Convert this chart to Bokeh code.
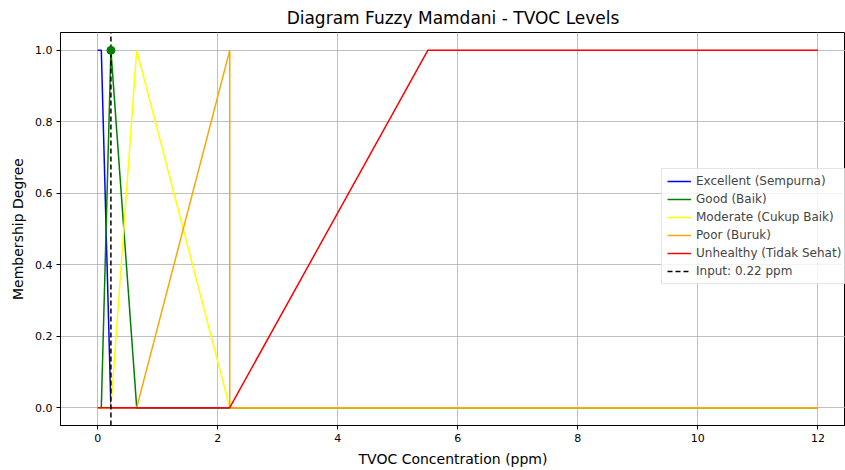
from bokeh.plotting import figure
from bokeh.models import Range1d, Legend, LegendItem, FixedTicker, CustomJSTickFormatter
from bokeh.embed import file_html
from bokeh.resources import INLINE

# membership function breakpoints (TVOC ppm) and degrees
excellent_x = [0, 0.06, 0.22, 12]
excellent_y = [1, 1, 0, 0]
good_x = [0, 0.06, 0.22, 0.65, 12]
good_y = [0, 0, 1, 0, 0]
moderate_x = [0, 0.22, 0.65, 2.2, 12]
moderate_y = [0, 0, 1, 0, 0]
poor_x = [0, 0.65, 2.2, 2.2, 12]
poor_y = [0, 0, 1, 0, 0]
unhealthy_x = [0, 2.2, 5.5, 12]
unhealthy_y = [0, 0, 1, 1]
input_value = 0.22
input_degree = 1.0

labels = ["Excellent (Sempurna)", "Good (Baik)", "Moderate (Cukup Baik)",
          "Poor (Buruk)", "Unhealthy (Tidak Sehat)", "Input: 0.22 ppm"]
x_ticks = [0, 2, 4, 6, 8, 10, 12]
y_ticks = [0.0, 0.2, 0.4, 0.6, 0.8, 1.0]

p = figure(width=845, height=470, output_backend="svg", toolbar_location=None,
           x_range=Range1d(-0.62, 12.46), y_range=Range1d(-0.05, 1.05),
           min_border_left=60, min_border_right=0, min_border_top=31,
           min_border_bottom=45)
p.title.text = "Diagram Fuzzy Mamdani - TVOC Levels"
p.title.align = "center"
p.title.text_font = "DejaVu Sans"
p.title.text_font_size = "17px"
p.title.text_font_style = "normal"
p.title.text_color = "black"

p.outline_line_color = "black"
p.outline_line_width = 1
for ax in (p.xaxis, p.yaxis):
    ax.axis_label_text_font = "DejaVu Sans"
    ax.axis_label_text_font_size = "14px"
    ax.axis_label_text_font_style = "normal"
    ax.axis_label_text_color = "black"
    ax.major_label_text_font = "DejaVu Sans"
    ax.major_label_text_font_size = "11px"
    ax.major_label_text_color = "black"
    ax.minor_tick_line_color = None
    ax.major_tick_out = 4
    ax.major_tick_in = 0
    ax.axis_line_color = "black"
    ax.major_label_standoff = 4
    ax.axis_label_standoff = 6
p.xaxis.axis_label = "TVOC Concentration (ppm)"
p.yaxis.axis_label = "Membership Degree"
p.xaxis.ticker = FixedTicker(ticks=x_ticks)
p.yaxis.ticker = FixedTicker(ticks=y_ticks)
p.yaxis.formatter = CustomJSTickFormatter(code="return tick.toFixed(1)")
p.xgrid.grid_line_color = "#b0b0b0"
p.ygrid.grid_line_color = "#b0b0b0"
p.xgrid.grid_line_alpha = 0.8
p.ygrid.grid_line_alpha = 0.8

r1 = p.line(excellent_x, excellent_y, line_color="blue", line_width=1.5)
r2 = p.line(good_x, good_y, line_color="green", line_width=1.5)
r3 = p.line(moderate_x, moderate_y, line_color="yellow", line_width=1.5)
r4 = p.line(poor_x, poor_y, line_color="orange", line_width=1.5)
r5 = p.line(unhealthy_x, unhealthy_y, line_color="red", line_width=1.5)
r6 = p.line([input_value, input_value], [p.y_range.start, p.y_range.end],
            line_color="black", line_width=1.5, line_dash="5 3")
p.scatter([input_value], [input_degree], size=8, color="green")

legend = Legend(items=[LegendItem(label=l, renderers=[r]) for l, r in
                       zip(labels, [r1, r2, r3, r4, r5, r6])],
                location=(601, 141))
legend.label_text_font = "DejaVu Sans"
legend.label_text_font_size = "12px"
legend.glyph_width = 24
legend.glyph_height = 14
legend.label_height = 14
legend.spacing = 4
legend.padding = 5
legend.margin = 0
legend.border_line_color = "#cccccc"
legend.background_fill_alpha = 0.8
p.add_layout(legend)

open("out.html", "w").write(file_html(p, INLINE))
